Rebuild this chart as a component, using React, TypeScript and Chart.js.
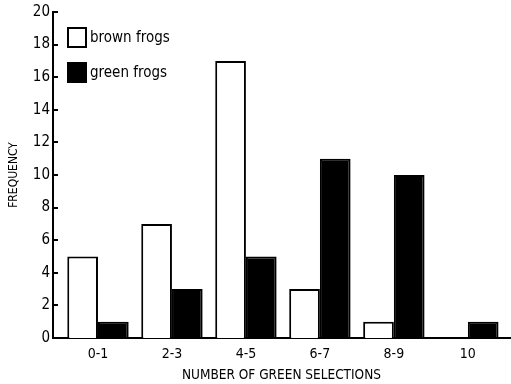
import React, { useEffect, useRef } from "react";
import { Chart, registerables } from "chart.js";

Chart.register(...registerables);

const categories = ["0-1", "2-3", "4-5", "6-7", "8-9", "10"];
const brownFrogs = [5, 7, 17, 3, 1, 0];
const greenFrogs = [1, 3, 5, 11, 10, 1];
const yTicks = [0, 2, 4, 6, 8, 10, 12, 14, 16, 18, 20];
const seriesNames = ["brown frogs", "green frogs"];
const xTitle = "NUMBER OF GREEN SELECTIONS";
const yTitle = "FREQUENCY";

const FONT = "'Liberation Sans Narrow', 'DejaVu Sans Condensed', sans-serif";

const innerTicks = {
  id: "innerTicks",
  afterDraw(chart: any) {
    const y = chart.scales.y;
    const ctx = chart.ctx;
    ctx.save();
    ctx.strokeStyle = "#000";
    ctx.lineWidth = 2;
    for (const v of yTicks) {
      const py = Math.round(y.getPixelForValue(v));
      ctx.beginPath();
      ctx.moveTo(chart.chartArea.left, py);
      ctx.lineTo(chart.chartArea.left + 5, py);
      ctx.stroke();
    }
    ctx.restore();
  },
};

const boxLegend = {
  id: "boxLegend",
  afterDraw(chart: any) {
    const ctx = chart.ctx;
    const left = chart.chartArea.left + 15;
    const top = chart.chartArea.top + 16;
    ctx.save();
    chart.data.datasets.forEach((ds: any, i: number) => {
      const yy = top + i * 35;
      ctx.fillStyle = ds.backgroundColor;
      ctx.fillRect(left, yy, 18, 19);
      ctx.strokeStyle = "#000";
      ctx.lineWidth = 2;
      ctx.strokeRect(left, yy, 18, 19);
      ctx.fillStyle = "#000";
      ctx.font = `15px ${FONT}`;
      ctx.textBaseline = "middle";
      ctx.textAlign = "left";
      ctx.fillText(ds.label, left + 22, yy + 10);
    });
    ctx.restore();
  },
};

export default function App() {
  const ref = useRef<HTMLCanvasElement | null>(null);

  useEffect(() => {
    if (!ref.current) return;
    const chart = new Chart(ref.current, {
      type: "bar",
      data: {
        datasets: [
          {
            label: seriesNames[0],
            data: brownFrogs.map((v, i) => ({ x: i, y: v })),
            backgroundColor: "#ffffff",
            borderColor: "#000000",
            borderWidth: 2,
            borderSkipped: "start",
          },
          {
            label: seriesNames[1],
            data: greenFrogs.map((v, i) => ({ x: i, y: v })),
            backgroundColor: "#000000",
            borderColor: "#000000",
            borderWidth: 2,
            borderSkipped: "start",
          },
        ],
      },
      options: {
        animation: false,
        responsive: false,
        categoryPercentage: 0.83,
        barPercentage: 1,
        layout: { padding: { top: 12, right: 1, left: 0, bottom: 0 } },
        plugins: {
          legend: { display: false },
          tooltip: { enabled: false },
        },
        scales: {
          x: {
            type: "linear",
            offset: false,
            min: -0.608,
            max: 5.57,
            afterBuildTicks: (scale: any) => {
              scale.ticks = categories.map((_, i) => ({ value: i }));
            },
            afterFit: (scale: any) => {
              scale.height = 46;
            },
            ticks: {
              color: "#000",
              font: { family: FONT, size: 14 },
              padding: 8,
              maxRotation: 0,
              autoSkip: false,
              callback: (v: any) => categories[v] ?? "",
            },
            grid: { display: false, drawTicks: false, offset: false },
            border: { display: true, color: "#000", width: 2 },
            title: {
              display: true,
              text: xTitle,
              color: "#000",
              font: { family: FONT, size: 13.5 },
              padding: { top: 1, bottom: 0 },
            },
          },
          y: {
            min: 0,
            max: 20,
            afterBuildTicks: (scale: any) => {
              scale.ticks = yTicks.map((v) => ({ value: v }));
            },
            afterFit: (scale: any) => {
              scale.width = 53;
            },
            ticks: {
              color: "#000",
              font: { family: FONT, size: 15 },
              padding: 3,
            },
            grid: { display: false, drawTicks: false },
            border: { display: true, color: "#000", width: 2 },
            title: {
              display: true,
              text: yTitle,
              color: "#000",
              font: { family: FONT, size: 12 },
              padding: { top: 7, bottom: 0 },
            },
          },
        },
      },
      plugins: [innerTicks, boxLegend],
    } as any);
    return () => chart.destroy();
  }, []);

  return (
    <div style={{ position: "absolute", left: 0, top: 0, width: 511, height: 384, background: "#fff" }}>
      <canvas ref={ref} width={511} height={384} style={{ display: "block" }} />
    </div>
  );
}
